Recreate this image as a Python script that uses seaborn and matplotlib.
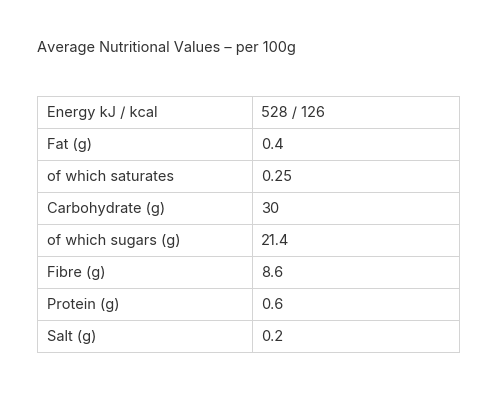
import numpy as np
import matplotlib.pyplot as plt
import seaborn as sns

title = "Average Nutritional Values \u2013 per 100g"
nutrients = ["Energy kJ / kcal", "Fat (g)", "of which saturates", "Carbohydrate (g)",
             "of which sugars (g)", "Fibre (g)", "Protein (g)", "Salt (g)"]
values = ["528 / 126", "0.4", "0.25", "30", "21.4", "8.6", "0.6", "0.2"]

sns.set_theme(style="white")
plt.rcParams["font.family"] = ["Inter", "DejaVu Sans"]

grid_col = "#d4d4d4"
text_col = "#333333"

fig = plt.figure(figsize=(5, 4), dpi=100)
ax = fig.add_axes([37 / 500, 48 / 400, 422 / 500, 256 / 400])

# white cells, gray cell borders
cells = np.zeros((len(nutrients), 2))
sns.heatmap(cells, cmap=["white"], cbar=False, linewidths=0.72, linecolor=grid_col,
            xticklabels=False, yticklabels=False, ax=ax)
ax.collections[0].set_antialiased(False)
# first column is a bit wider than the second
right = 1 + 207 / 215
ax.set_xlim(0, right)
ax.set_ylim(len(nutrients), 0)
for s in ax.spines.values():
    s.set_visible(True)
    s.set_color(grid_col)
    s.set_linewidth(0.72)
    s.set_antialiased(False)

for i, (n, v) in enumerate(zip(nutrients, values)):
    ax.text(0.047, i + 0.52, n, ha="left", va="center", fontsize=10.5, color=text_col)
    ax.text(1.042, i + 0.52, v, ha="left", va="center", fontsize=10.5, color=text_col)

fig.text(37 / 500, 1 - 48 / 400, title, ha="left", va="center", fontsize=10.5, color=text_col)

fig.savefig("out.png", dpi=100, facecolor="white")
